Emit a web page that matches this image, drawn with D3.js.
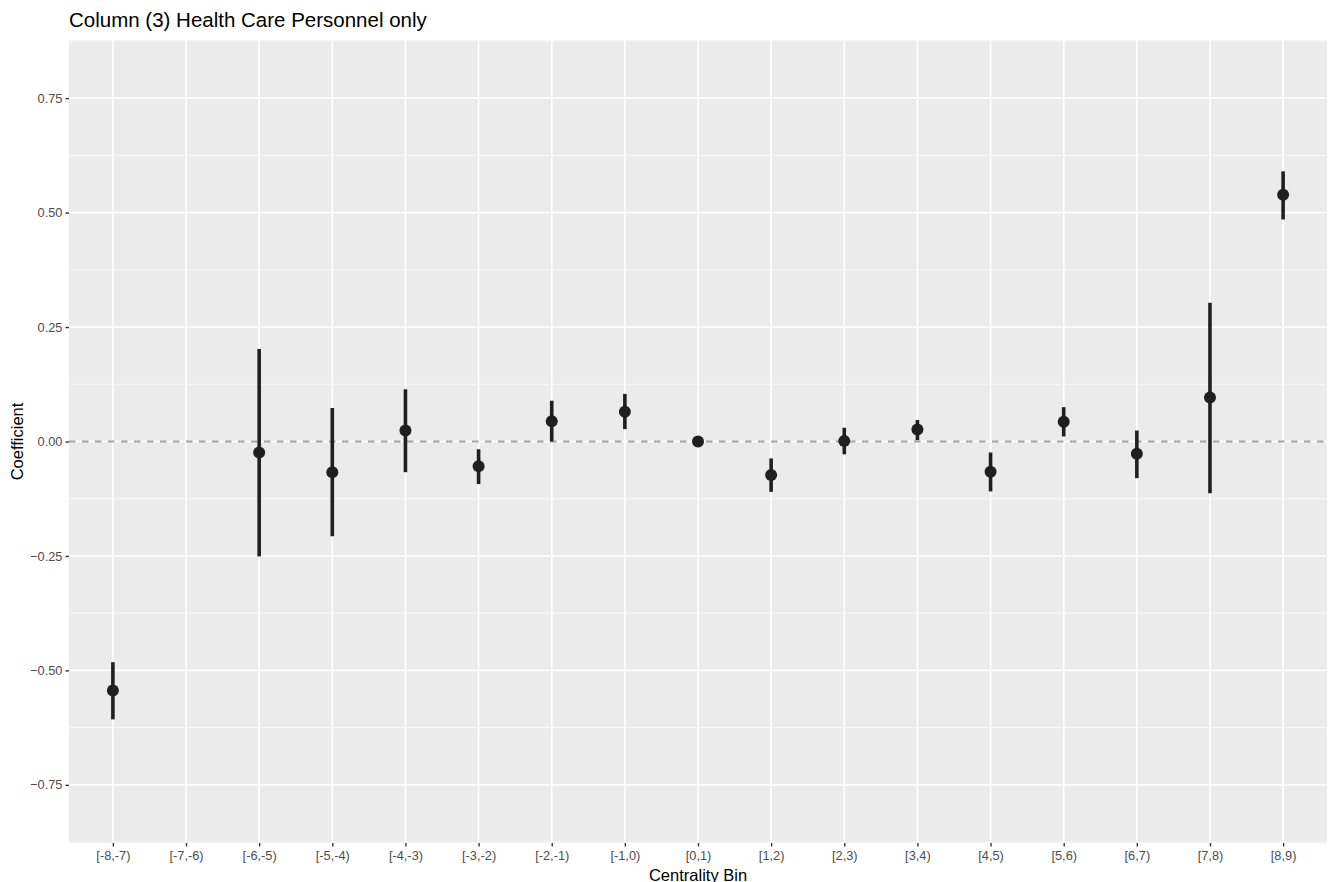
<!DOCTYPE html>
<html>
<head>
<meta charset="utf-8">
<script src="https://cdn.jsdelivr.net/npm/d3@7"></script>
<style>
  html, body { margin: 0; padding: 0; background: #fff; }
  svg { display: block; font-family: "Liberation Sans", Arial, Helvetica, sans-serif; }
</style>
</head>
<body>
<svg id="chart" width="1328" height="882"></svg>
<script>
// Centrality bins on the x axis
const bins = ["[-8,-7)", "[-7,-6)", "[-6,-5)", "[-5,-4)", "[-4,-3)", "[-3,-2)", "[-2,-1)", "[-1,0)",
              "[0,1)", "[1,2)", "[2,3)", "[3,4)", "[4,5)", "[5,6)", "[6,7)", "[7,8)", "[8,9)"];
// Point estimates and confidence bounds (null = no estimate for that bin)
const estimate = [-0.544, null, -0.024, -0.067, 0.024, -0.054, 0.044, 0.065,
                  0.000, -0.073, 0.001, 0.026, -0.066, 0.043, -0.027, 0.096, 0.539];
const lower    = [-0.607, null, -0.251, -0.207, -0.067, -0.093, 0.000, 0.027,
                  0.000, -0.110, -0.028, 0.003, -0.109, 0.011, -0.080, -0.113, 0.485];
const upper    = [-0.482, null, 0.202, 0.073, 0.114, -0.017, 0.089, 0.104,
                  0.000, -0.037, 0.030, 0.047, -0.024, 0.075, 0.024, 0.303, 0.590];
const yTicks = [-0.75, -0.5, -0.25, 0, 0.25, 0.5, 0.75];
const yMinor = [-0.875, -0.625, -0.375, -0.125, 0.125, 0.375, 0.625, 0.875];
const yDomain = [-0.877, 0.877];

const rows = bins.map((b, i) => ({ bin: b, est: estimate[i], lo: lower[i], hi: upper[i] }));

const panel = { left: 69, right: 1327, top: 40, bottom: 843 };
const svg = d3.select("#chart");

const n = bins.length;
const step = (panel.right - panel.left) / (n - 1 + 1.2);
const x = d3.scalePoint().domain(bins)
  .range([panel.left + 0.6 * step, panel.right - 0.6 * step]);
const y = d3.scaleLinear().domain(yDomain).range([panel.bottom, panel.top]);

// Panel background
svg.append("rect")
  .attr("x", panel.left).attr("y", panel.top)
  .attr("width", panel.right - panel.left).attr("height", panel.bottom - panel.top)
  .attr("fill", "#EBEBEB");

// Grid lines
const grid = svg.append("g");
grid.selectAll("line.minor").data(yMinor).join("line")
  .attr("x1", panel.left).attr("x2", panel.right)
  .attr("y1", d => y(d)).attr("y2", d => y(d))
  .attr("stroke", "#fff").attr("stroke-width", 0.9).attr("opacity", 0.75);
grid.selectAll("line.hmaj").data(yTicks).join("line")
  .attr("x1", panel.left).attr("x2", panel.right)
  .attr("y1", d => y(d)).attr("y2", d => y(d))
  .attr("stroke", "#fff").attr("stroke-width", 1.6);
grid.selectAll("line.vmaj").data(bins).join("line")
  .attr("x1", d => x(d)).attr("x2", d => x(d))
  .attr("y1", panel.top).attr("y2", panel.bottom)
  .attr("stroke", "#fff").attr("stroke-width", 1.6);

// Zero reference line
svg.append("line")
  .attr("x1", panel.left).attr("x2", panel.right)
  .attr("y1", y(0)).attr("y2", y(0))
  .attr("stroke", "#A3A3A3").attr("stroke-width", 1.8)
  .attr("stroke-dasharray", "6.5,6.5");

// Point ranges
const pts = rows.filter(d => d.est !== null);
svg.append("g").selectAll("line").data(pts).join("line")
  .attr("x1", d => x(d.bin)).attr("x2", d => x(d.bin))
  .attr("y1", d => y(d.lo)).attr("y2", d => y(d.hi))
  .attr("stroke", "#1f1f1f").attr("stroke-width", 3.6);
svg.append("g").selectAll("circle").data(pts).join("circle")
  .attr("cx", d => x(d.bin)).attr("cy", d => y(d.est))
  .attr("r", 6).attr("fill", "#1f1f1f");

// Axes
const xAxis = svg.append("g")
  .attr("transform", `translate(0,${panel.bottom})`)
  .call(d3.axisBottom(x).tickSize(3.5).tickPadding(4.5));
const yAxis = svg.append("g")
  .attr("transform", `translate(${panel.left},0)`)
  .call(d3.axisLeft(y).tickValues(yTicks).tickFormat(d3.format(".2f")).tickSize(3.5).tickPadding(3));
[xAxis, yAxis].forEach(a => {
  a.select(".domain").remove();
  a.selectAll(".tick line").attr("stroke", "#333").attr("stroke-width", 1.4);
  a.selectAll(".tick text").attr("fill", "#4D4D4D").style("font-size", "12.8px")
    .style("font-family", "'Liberation Sans', Arial, sans-serif");
});

// Titles
svg.append("text")
  .attr("x", panel.left).attr("y", 27)
  .attr("fill", "#000").style("font-size", "20.5px")
  .text("Column (3) Health Care Personnel only");
svg.append("text")
  .attr("x", (panel.left + panel.right) / 2).attr("y", 881)
  .attr("text-anchor", "middle").attr("fill", "#000").style("font-size", "16.5px")
  .text("Centrality Bin");
svg.append("text")
  .attr("transform", `translate(23,${(panel.top + panel.bottom) / 2}) rotate(-90)`)
  .attr("text-anchor", "middle").attr("fill", "#000").style("font-size", "16.5px")
  .text("Coefficient");
</script>
</body>
</html>
